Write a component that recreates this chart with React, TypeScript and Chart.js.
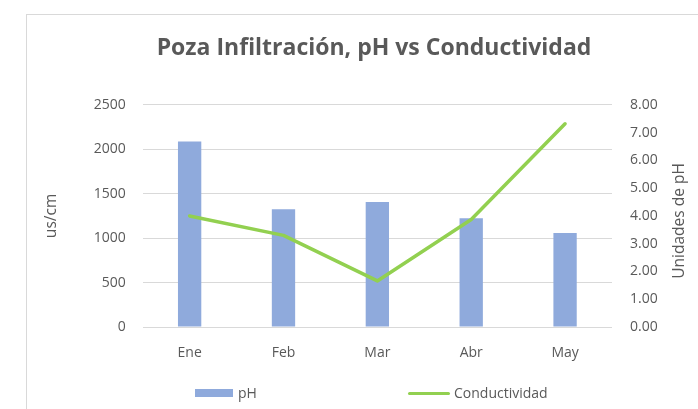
import React, { useEffect, useRef } from 'react';
import { Chart, registerables } from 'chart.js';

Chart.register(...registerables);

const CATEGORIES = ['Ene', 'Feb', 'Mar', 'Abr', 'May'];
const PH_VALUES = [2088, 1325, 1407, 1224, 1059];
const CONDUCTIVIDAD = [4.0, 3.3, 1.66, 3.87, 7.32];
const LEFT_TICKS = [0, 500, 1000, 1500, 2000, 2500];
const RIGHT_TICKS = [0, 1, 2, 3, 4, 5, 6, 7, 8];
const TITLE = 'Poza Infiltración, pH vs Conductividad';
const LEFT_TITLE = 'us/cm';
const RIGHT_TITLE = 'Unidades de pH';
const SERIES_NAMES = ['pH', 'Conductividad'];

const BAR_COLOR = '#8FAADC';
const LINE_COLOR = '#92D050';
const TEXT_COLOR = '#595959';
const GRID_COLOR = '#D9D9D9';
const FONT = '"Open Sans", "DejaVu Sans", sans-serif';

const rightTitlePlugin = {
  id: 'rightTitle',
  afterDraw(chart: any) {
    const s = chart.scales.y1;
    const area = chart.chartArea;
    const ctx = chart.ctx;
    ctx.save();
    ctx.font = '15.5px ' + FONT;
    ctx.fillStyle = TEXT_COLOR;
    ctx.textAlign = 'center';
    ctx.textBaseline = 'middle';
    ctx.translate(s.right - 41, (area.top + area.bottom) / 2 + 5);
    ctx.rotate(-Math.PI / 2);
    ctx.fillText(RIGHT_TITLE, 0, 0);
    ctx.restore();
  },
};

export default function App() {
  const ref = useRef<HTMLCanvasElement | null>(null);

  useEffect(() => {
    if (!ref.current) return;
    const chart = new Chart(ref.current, {
      type: 'bar',
      data: {
        labels: CATEGORIES,
        datasets: [
          {
            type: 'bar',
            label: SERIES_NAMES[0],
            data: PH_VALUES,
            backgroundColor: BAR_COLOR,
            borderWidth: 0,
            yAxisID: 'y',
            order: 2,
            barPercentage: 0.5,
            categoryPercentage: 0.497,
          },
          {
            type: 'line',
            label: SERIES_NAMES[1],
            data: CONDUCTIVIDAD,
            borderColor: LINE_COLOR,
            backgroundColor: LINE_COLOR,
            borderWidth: 3.5,
            borderCapStyle: 'round',
            borderJoinStyle: 'round',
            pointRadius: 0,
            tension: 0,
            yAxisID: 'y1',
            order: 1,
          } as any,
        ],
      },
      options: {
        animation: false,
        responsive: false,
        maintainAspectRatio: false,
        layout: { padding: { top: 0, left: 0, right: 0, bottom: 42 } },
        plugins: {
          legend: { display: false },
          tooltip: { enabled: false },
          title: {
            display: true,
            text: TITLE,
            color: TEXT_COLOR,
            font: { family: FONT, size: 23, weight: 'bold' },
            padding: { top: 20, bottom: 42.3 },
          },
        },
        scales: {
          x: {
            grid: { display: false },
            border: { display: false },
            ticks: { color: TEXT_COLOR, font: { family: FONT, size: 14 }, padding: 10 },
            afterFit: (s: any) => {
              s.height = 40;
            },
          },
          y: {
            position: 'left',
            min: LEFT_TICKS[0],
            max: LEFT_TICKS[LEFT_TICKS.length - 1],
            ticks: {
              stepSize: LEFT_TICKS[1] - LEFT_TICKS[0],
              color: TEXT_COLOR,
              font: { family: FONT, size: 14 },
              padding: 17,
              callback: (v: any) => String(v),
            },
            grid: { color: GRID_COLOR, drawTicks: false, lineWidth: 1 },
            border: { display: false },
            title: {
              display: true,
              text: LEFT_TITLE,
              color: TEXT_COLOR,
              font: { family: FONT, size: 15.5 },
              padding: { top: 15, bottom: 0 },
            },
            afterFit: (s: any) => {
              s.width = 115.7;
            },
          },
          y1: {
            position: 'right',
            min: RIGHT_TICKS[0],
            max: RIGHT_TICKS[RIGHT_TICKS.length - 1],
            ticks: {
              stepSize: RIGHT_TICKS[1] - RIGHT_TICKS[0],
              color: TEXT_COLOR,
              font: { family: FONT, size: 14 },
              padding: 18,
              callback: (v: any) => Number(v).toFixed(2),
            },
            grid: { display: false, drawTicks: false },
            border: { display: false },
            afterFit: (s: any) => {
              s.width = 109;
            },
          },
        },
      } as any,
      plugins: [rightTitlePlugin],
    });
    return () => chart.destroy();
  }, []);

  const legendText: React.CSSProperties = {
    position: 'absolute',
    top: 383,
    fontFamily: FONT,
    fontSize: 14,
    lineHeight: '19px',
    color: TEXT_COLOR,
    whiteSpace: 'nowrap',
  };

  return (
    <div
      style={{
        position: 'absolute',
        left: 0,
        top: 0,
        width: 698,
        height: 409,
        overflow: 'hidden',
        background: '#fff',
      }}
    >
      <div
        style={{
          position: 'absolute',
          left: 26,
          top: 14,
          width: 720,
          height: 420,
          border: '1px solid ' + GRID_COLOR,
          boxSizing: 'border-box',
        }}
      >
        <canvas
          ref={ref}
          width={694}
          height={394}
          style={{ position: 'absolute', left: 0, top: 0, width: 694, height: 394 }}
        />
      </div>
      <div style={{ position: 'absolute', left: 195, top: 389, width: 38, height: 8, background: BAR_COLOR }} />
      <div style={{ ...legendText, left: 238 }}>{SERIES_NAMES[0]}</div>
      <div
        style={{
          position: 'absolute',
          left: 408,
          top: 391.5,
          width: 42,
          height: 3.5,
          borderRadius: 2,
          background: LINE_COLOR,
        }}
      />
      <div style={{ ...legendText, left: 454 }}>{SERIES_NAMES[1]}</div>
    </div>
  );
}
